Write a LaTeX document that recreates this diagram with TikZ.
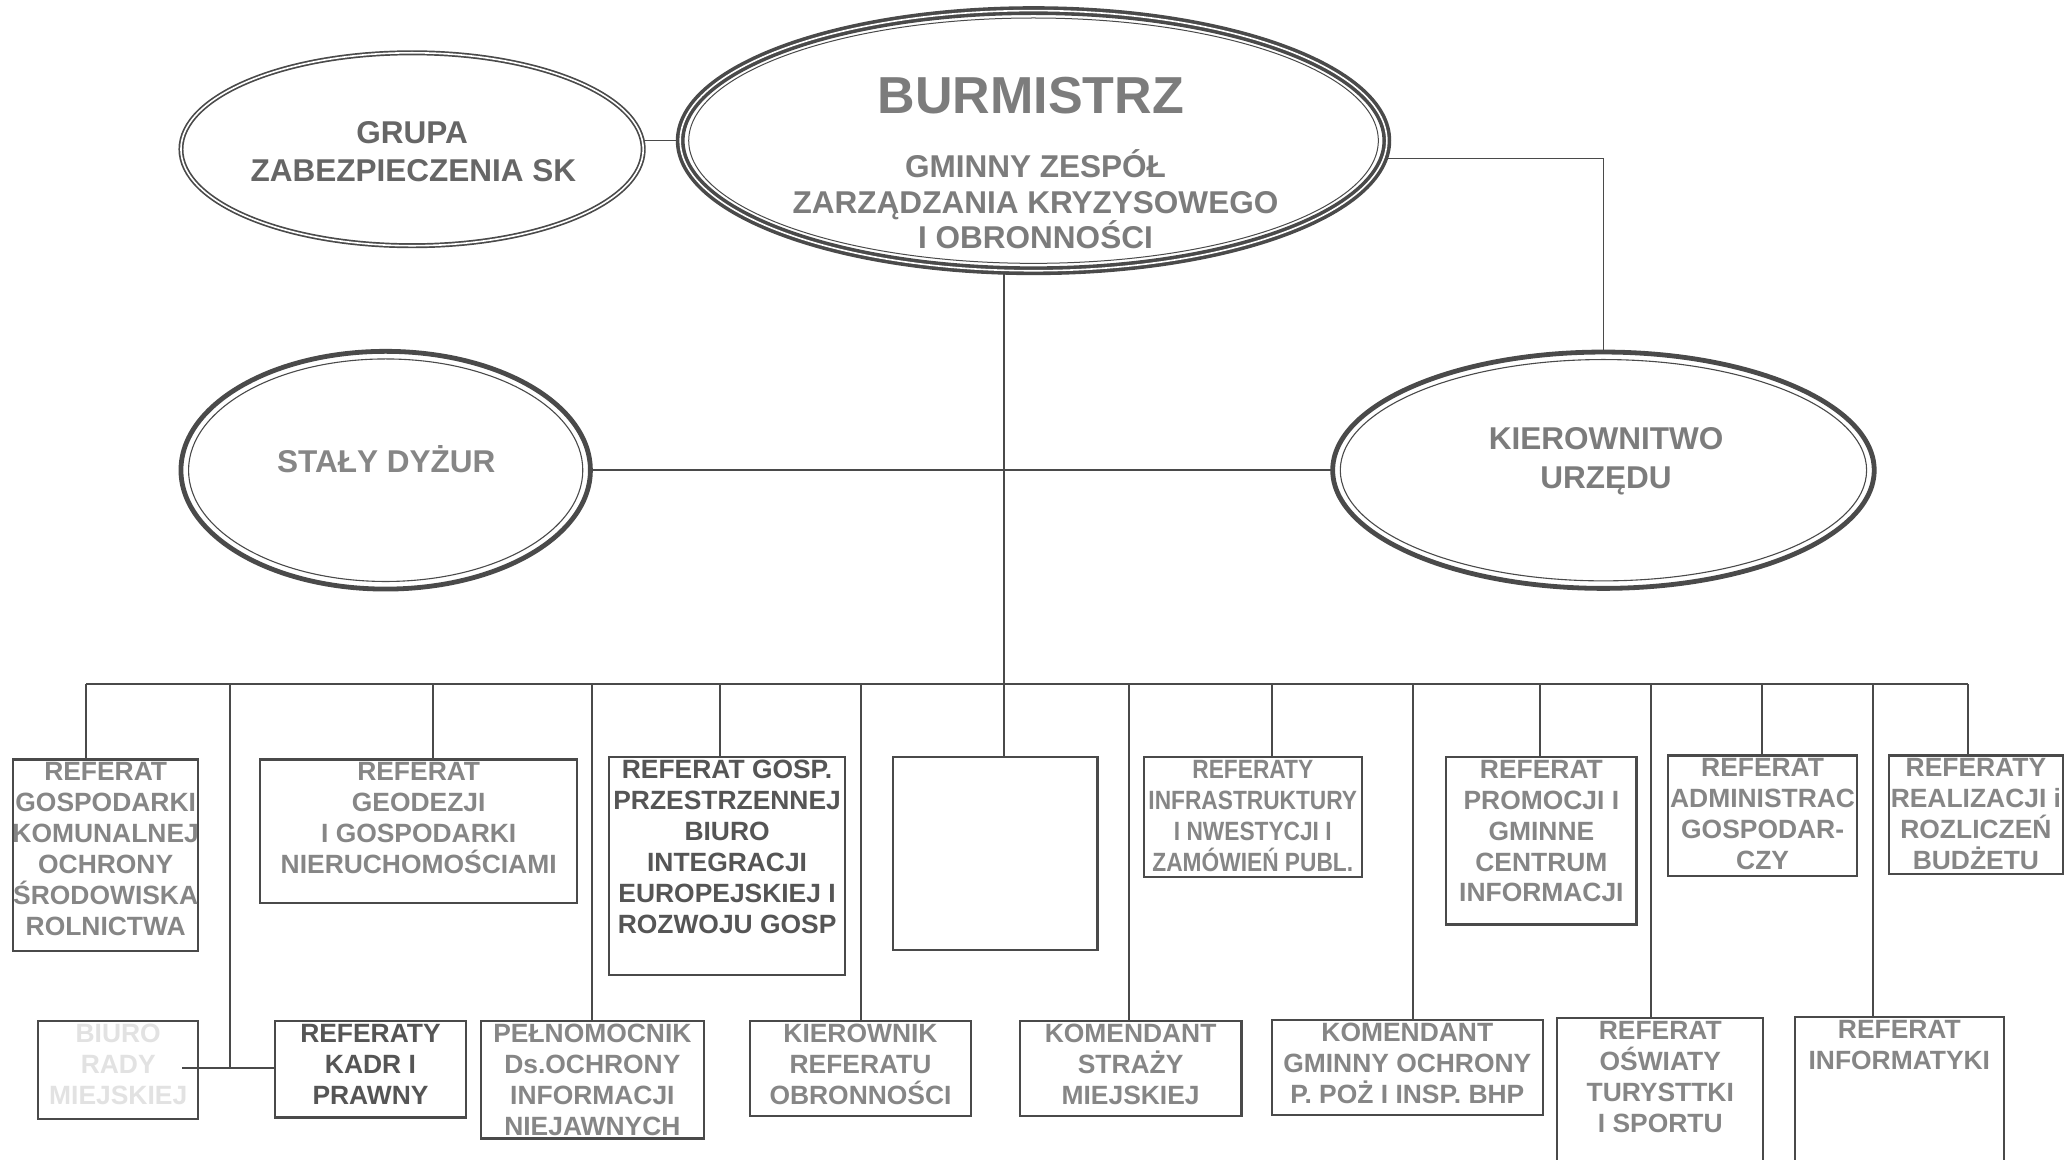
\documentclass[tikz,border=0pt]{standalone}
\usepackage{fontspec}
\setmainfont{Liberation Sans}
\newfontfamily\narrowfont[FakeStretch=0.86]{Liberation Sans}
\usetikzlibrary{shapes.geometric,backgrounds,calc}
\definecolor{ln}{HTML}{4A4A4A}
\definecolor{tx}{HTML}{868686}
\definecolor{txd}{HTML}{555555}
\definecolor{txe}{HTML}{7C7C7C}
\definecolor{txf}{HTML}{E2E2E2}
\tikzset{
  conn/.style={draw=ln, line width=0.8pt},
  box/.style={draw=ln, line width=1.1pt, rectangle, inner sep=0pt},
  btext/.style={anchor=north, yshift=-2pt, inner sep=0pt, align=center, text=tx,
    font=\fontsize{13.2}{15.45}\selectfont\bfseries},
  eline/.style={anchor=base, inner sep=0pt, text=txe, font=\fontsize{15.75}{19}\selectfont\bfseries},
  ell/.style={ellipse, inner sep=0pt, fill=white, draw=ln},
}
\begin{document}
\begin{tikzpicture}[x=0.66pt,y=-0.66pt]
\useasboundingbox (0,0) rectangle (1568,878);
\clip (0,0) rectangle (1568,878);

% ellipses
\node[ell, double=white, line width=0.85pt, double distance=0.8pt,
      minimum width=231pt, minimum height=96.4pt] (grupa) at (312,113) {};
\node[ell, double=white, line width=1.8pt, double distance=0.8pt,
      minimum width=353.1pt, minimum height=130pt] (burm) at (782.5,106.5) {};
\node[ell, line width=2.4pt, minimum width=204.6pt, minimum height=118.8pt] (staly) at (292,356) {};
\node[ell, line width=2.4pt, minimum width=270.6pt, minimum height=118.1pt] (kier) at (1214,356) {};
\draw[ln, line width=0.55pt] (staly.center) ellipse [x radius=98.5pt, y radius=55.6pt];
\draw[ln, line width=0.55pt] (kier.center) ellipse [x radius=131.5pt, y radius=55.3pt];
\draw[ln, line width=0.5pt] (burm.center) ellipse [x radius=172.3pt, y radius=61.3pt];

% ellipse texts
\node[eline, text=txe, font=\fontsize{26}{30}\selectfont\bfseries] (tb0) at (780.5,86) {BURMISTRZ};
\node[eline] (tb1) at (784,134.5) {GMINNY ZESPÓŁ};
\node[eline] (tb2) at (784,161.5) {ZARZĄDZANIA KRYZYSOWEGO};
\node[eline] (tb3) at (784,188.5) {I OBRONNOŚCI};
\node[eline, text=txd!90!white] (tg1) at (312,108.5) {GRUPA};
\node[eline, text=txd!90!white] (tg2) at (313,137.5) {ZABEZPIECZENIA SK};
\node[eline, text=tx] (ts1) at (292.5,357.5) {STAŁY DYŻUR};
\node[eline] (tk1) at (1216,340.5) {KIEROWNITWO};
\node[eline] (tk2) at (1216,369.5) {URZĘDU};

% upper row boxes
\node[box, minimum width=92.4pt, minimum height=95.7pt] (g1) at (80,647.5) {};
\node[box, minimum width=158.4pt, minimum height=71.9pt] (g2) at (317,629.5) {};
\node[box, minimum width=118.1pt, minimum height=108.9pt] (g3) at (550.5,655.5) {};
\node[box, minimum width=102.3pt, minimum height=96.4pt] (g4) at (753.5,646) {};
\node[box, minimum width=108.9pt, minimum height=60.1pt] (g5) at (948.5,618.5) {};
\node[box, minimum width=95pt, minimum height=83.8pt] (g6) at (1167,636.5) {};
\node[box, minimum width=94.4pt, minimum height=60.1pt] (g7) at (1334.5,617.5) {};
\node[box, minimum width=87.1pt, minimum height=59.4pt] (g8) at (1496,617) {};

% lower row boxes
\node[box, minimum width=79.9pt, minimum height=48.8pt] (h1) at (89.5,810) {};
\node[box, minimum width=95.7pt, minimum height=48.2pt] (h2) at (280.5,809.5) {};
\node[box, minimum width=111.5pt, minimum height=58.7pt] (h3) at (448.5,817.5) {};
\node[box, minimum width=110.2pt, minimum height=47.5pt] (h4) at (651.5,809) {};
\node[box, minimum width=110.9pt, minimum height=47.5pt] (h5) at (856,809) {};
\node[box, minimum width=135.3pt, minimum height=47.5pt] (h6) at (1065.5,808) {};
\node[box, minimum width=103pt, minimum height=85.1pt] (h7) at (1257,835.5) {};
\node[box, minimum width=104.3pt, minimum height=85.8pt] (h8) at (1438,835) {};

% box texts
\node[btext] (g1t) at (g1.north) {REFERAT\\GOSPODARKI\\KOMUNALNEJ\\OCHRONY\\ŚRODOWISKA\\ROLNICTWA};
\node[btext] (g2t) at (g2.north) {REFERAT\\GEODEZJI\\I GOSPODARKI\\NIERUCHOMOŚCIAMI};
\node[btext, text=txd] (g3t) at (g3.north) {REFERAT GOSP.\\PRZESTRZENNEJ\\BIURO\\INTEGRACJI\\EUROPEJSKIEJ I\\ROZWOJU GOSP};
\node[btext, font=\narrowfont\fontsize{13.2}{15.45}\selectfont\bfseries] (g5t) at (g5.north) {REFERATY\\INFRASTRUKTURY\\I NWESTYCJI I\\ZAMÓWIEŃ PUBL.};
\node[btext] (g6t) at (g6.north) {REFERAT\\PROMOCJI I\\GMINNE\\CENTRUM\\INFORMACJI};
\node[btext] (g7t) at (g7.north) {REFERAT\\ADMINISTRAC\\GOSPODAR-\\CZY};
\node[btext] (g8t) at (g8.north) {REFERATY\\REALIZACJI i\\ROZLICZEŃ\\BUDŻETU};
\node[btext, text=txf] (h1t) at (h1.north) {BIURO\\RADY\\MIEJSKIEJ};
\node[btext, text=txd] (h2t) at (h2.north) {REFERATY\\KADR I\\PRAWNY};
\node[btext] (h3t) at (h3.north) {PEŁNOMOCNIK\\Ds.OCHRONY\\INFORMACJI\\NIEJAWNYCH};
\node[btext] (h4t) at (h4.north) {KIEROWNIK\\REFERATU\\OBRONNOŚCI};
\node[btext] (h5t) at (h5.north) {KOMENDANT\\STRAŻY\\MIEJSKIEJ};
\node[btext] (h6t) at (h6.north) {KOMENDANT\\GMINNY OCHRONY\\P. POŻ I INSP. BHP};
\node[btext] (h7t) at (h7.north) {REFERAT\\OŚWIATY\\TURYSTTKI\\I SPORTU};
\node[btext] (h8t) at (h8.north) {REFERAT\\INFORMATYKI};

% connectors
\coordinate (kc) at (1214,120);
\coordinate (trunk) at (760,518);
\coordinate (d1) at (65,518);
\coordinate (dB) at (174,518);
\coordinate (d2) at (328,518);
\coordinate (d3) at (448,518);
\coordinate (d4) at (545,518);
\coordinate (d5) at (652,518);
\coordinate (d6) at (855,518);
\coordinate (d7) at (963,518);
\coordinate (d8) at (1070,518);
\coordinate (d9) at (1166,518);
\coordinate (d10) at (1250,518);
\coordinate (d11) at (1334,518);
\coordinate (d12) at (1418,518);
\coordinate (d13) at (1490,518);
\begin{pgfonlayer}{background}
\fill[white] (0,0) rectangle (1568,878);
\draw[conn] (burm.center -| grupa.center) -- (burm.center);
\draw[conn] (burm.center |- kc) -- (kc) -- (kier.center);
\draw[conn] (staly.center) -- (kier.center);
\draw[conn] (trunk |- burm.center) -- (trunk |- g4.north);
\end{pgfonlayer}
\draw[conn] (d1) -- (d13);
\draw[conn] (d1) -- (d1 |- g1.north);
\draw[conn] (d2) -- (d2 |- g2.north);
\draw[conn] (d3) -- (d3 |- h3.north);
\draw[conn] (d4) -- (d4 |- g3.north);
\draw[conn] (d5) -- (d5 |- h4.north);
\draw[conn] (d6) -- (d6 |- h5.north);
\draw[conn] (d7) -- (d7 |- g5.north);
\draw[conn] (d8) -- (d8 |- h6.north);
\draw[conn] (d9) -- (d9 |- g6.north);
\draw[conn] (d10) -- (d10 |- h7.north);
\draw[conn] (d11) -- (d11 |- g7.north);
\draw[conn] (d12) -- (d12 |- h8.north);
\draw[conn] (d13) -- (d13 |- g8.north);
\coordinate (bj) at ($(h1.east)+(-13,-1.5)$);
\draw[conn] (dB) -- (dB |- bj);
\draw[conn] (bj) -- (bj -| h2.west);
\end{tikzpicture}
\end{document}
